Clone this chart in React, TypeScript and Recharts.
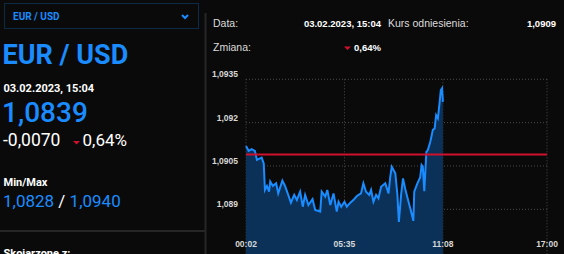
import React from "react";
import { ComposedChart, Area, XAxis, YAxis, CartesianGrid, ReferenceLine } from "recharts";

// minutes since midnight / EUR-USD quote
const MINUTES = [2, 11, 21, 32, 39, 55, 62, 66, 73, 80, 84, 93, 104, 111, 125, 134, 143, 154, 165, 174, 185, 194, 202, 213, 227, 236, 253, 258, 270, 277, 287, 298, 309, 315, 324, 335, 343, 354, 365, 377, 391, 399, 408, 419, 425, 433, 442, 450, 459, 473, 484, 490, 495, 507, 514, 519, 527, 533, 540, 547, 557, 568, 571, 581, 591, 596, 600, 605, 612, 617, 625, 629, 634, 640, 645, 651, 657, 661, 665, 668];
const RATES = [1.09119, 1.09102, 1.09108, 1.09102, 1.09071, 1.09079, 1.09059, 1.08967, 1.08981, 1.08961, 1.08996, 1.08981, 1.0899, 1.08955, 1.08999, 1.08981, 1.08955, 1.08923, 1.0895, 1.08932, 1.08961, 1.08909, 1.0895, 1.08915, 1.08935, 1.08898, 1.08892, 1.08961, 1.08944, 1.08967, 1.08915, 1.08955, 1.08892, 1.08926, 1.08909, 1.08926, 1.08909, 1.08922, 1.08932, 1.08946, 1.08955, 1.0899, 1.08961, 1.0895, 1.08967, 1.08926, 1.0895, 1.08938, 1.08978, 1.0899, 1.08955, 1.09013, 1.09047, 1.09025, 1.0895, 1.08856, 1.08955, 1.09007, 1.08973, 1.08944, 1.08905, 1.0886, 1.08961, 1.08988, 1.0901, 1.09053, 1.09047, 1.08963, 1.09099, 1.09105, 1.09133, 1.09151, 1.09175, 1.0918, 1.09226, 1.09215, 1.09272, 1.09313, 1.09319, 1.09272];

const X_TICKS = [2, 335, 668, 1020];
const Y_TICKS = [1.089, 1.0905, 1.092, 1.0935];
const REFERENCE_RATE = 1.0909;

const BLUE = "#1a8cff";
const RED = "#d0102c";
const BG = "#0a0a0a";
const LINE = "#262626";

const data = MINUTES.map((m, i) => ({ m, v: RATES[i] }));

const fmtTime = (m: number) =>
  `${String(Math.floor(m / 60)).padStart(2, "0")}:${String(m % 60).padStart(2, "0")}`;
const fmtRate = (v: number) => String(+v.toFixed(4)).replace(".", ",");

const arial = "'Liberation Sans', Arial, sans-serif";

const renderXTick = (props: any) => (
  <text key={props.index} x={props.x} y={247} textAnchor="middle" fontSize={8.5} fontWeight="bold"
    fontFamily={arial} fill="#d8d8d8">
    {fmtTime(props.payload.value)}
  </text>
);

const renderYTick = (props: any) => (
  <text key={props.index} x={238} y={props.y - 2} textAnchor="end" fontSize={8.5} fontWeight="bold"
    fontFamily={arial} fill="#d8d8d8">
    {fmtRate(props.payload.value)}
  </text>
);

export default function App() {
  const roboto = "Roboto, sans-serif";
  return (
    <div style={{ position: "absolute", left: 0, top: 0, width: 564, height: 254, background: BG, overflow: "hidden" }}>
      <svg width={564} height={254} style={{ position: "absolute", left: 0, top: 0 }}>
        {/* left panel */}
        <rect x={4.5} y={3.5} width={194} height={25} fill="none" stroke="#0d2a47" />
        <text x={13} y={20} fontFamily={roboto} fontWeight="bold" fontSize={10} fill={BLUE}>EUR / USD</text>
        <polyline points="182,15 185,18 188,15" fill="none" stroke={BLUE} strokeWidth={2} />
        <text x={2.5} y={64} fontFamily={roboto} fontWeight="bold" fontSize={27} fill={BLUE}>EUR / USD</text>
        <text x={3.5} y={92} fontFamily={roboto} fontWeight="bold" fontSize={11} fill="#ffffff">03.02.2023, 15:04</text>
        <text x={2} y={121.5} fontFamily={roboto} fontWeight={500} fontSize={28} fill={BLUE}>1,0839</text>
        <text x={3} y={146} fontFamily={roboto} fontSize={17.5} fill="#ffffff">-0,0070</text>
        <polygon points="73,141 80,141 76.5,144.5" fill={RED} />
        <text x={82.5} y={146} fontFamily={roboto} fontSize={17} fill="#ffffff">0,64%</text>
        <text x={3.5} y={186} fontFamily={roboto} fontWeight="bold" fontSize={11} fill="#ffffff">Min/Max</text>
        <text x={3} y={207} fontFamily={roboto} fontSize={17} fill={BLUE}>
          1,0828<tspan fill="#ffffff"> / </tspan>1,0940
        </text>
        <line x1={0} y1={231} x2={205} y2={231} stroke={LINE} strokeWidth={2} />
        <line x1={205.5} y1={13} x2={205.5} y2={254} stroke={LINE} strokeWidth={2} />
        <text x={3.5} y={257} fontFamily={roboto} fontWeight="bold" fontSize={11} fill="#ffffff">Skojarzone z:</text>

        {/* right panel header */}
        <text x={213} y={27} fontFamily={arial} fontSize={10.5} fill="#dcdcdc">Data:</text>
        <text x={381} y={27} textAnchor="end" fontFamily={arial} fontWeight="bold" fontSize={9.5} fill="#ffffff">03.02.2023, 15:04</text>
        <text x={388} y={27} fontFamily={arial} fontSize={10.5} fill="#dcdcdc">Kurs odniesienia:</text>
        <text x={556} y={27} textAnchor="end" fontFamily={arial} fontWeight="bold" fontSize={9.5} fill="#ffffff">1,0909</text>
        <text x={213} y={51} fontFamily={arial} fontSize={10.5} fill="#dcdcdc">Zmiana:</text>
        <polygon points="344,46.5 351,46.5 347.5,50" fill={RED} />
        <text x={381} y={51} textAnchor="end" fontFamily={arial} fontWeight="bold" fontSize={9.5} fill="#ffffff">0,64%</text>
      </svg>

      <div style={{ position: "absolute", left: 0, top: 0 }}>
        <ComposedChart width={564} height={272} data={data}
          margin={{ top: 79.3, right: 17, bottom: 0.7, left: 206 }}>
          <CartesianGrid stroke="#4a4a4a" strokeDasharray="1 2" />
          <XAxis dataKey="m" type="number" domain={[2, 1020]} ticks={X_TICKS} height={10}
            axisLine={false} tickLine={false} tick={renderXTick} interval={0} />
          <YAxis type="number" domain={[1.0872, 1.0935]} ticks={Y_TICKS} width={40} allowDataOverflow
            axisLine={false} tickLine={false} tick={renderYTick} interval={0} />
          <Area type="linear" dataKey="v" stroke={BLUE} strokeWidth={2} fill="#0b3158" fillOpacity={1}
            isAnimationActive={false} dot={false} activeDot={false} />
          <ReferenceLine y={REFERENCE_RATE} stroke={RED} strokeWidth={2} />
        </ComposedChart>
      </div>
    </div>
  );
}
